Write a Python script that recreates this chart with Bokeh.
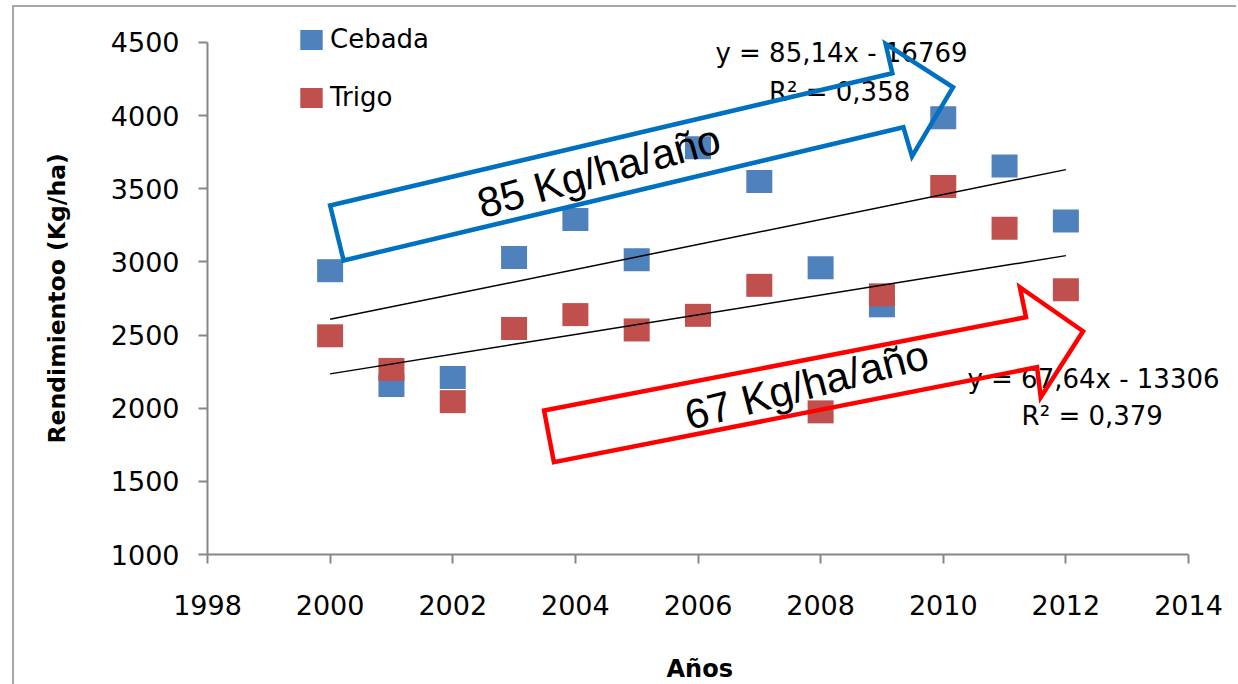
import numpy as np
from bokeh.plotting import figure
from bokeh.models import FixedTicker, Legend, LegendItem, Range1d, ColumnDataSource, Title
from bokeh.core.properties import value
from bokeh.embed import file_html
from bokeh.resources import INLINE

# ---------------- data ----------------
years = [2000, 2001, 2002, 2003, 2004, 2005, 2006, 2007, 2008, 2009, 2010, 2011, 2012]
cebada = [2940, 2155, 2210, 3030, 3290, 3015, 3780, 3550, 2960, 2700, 3985, 3655, 3280]
trigo = [2495, 2265, 2045, 2545, 2640, 2535, 2635, 2840, 1975, 2775, 3515, 3230, 2810]
series_names = ["Cebada", "Trigo"]
x_ticks = [1998, 2000, 2002, 2004, 2006, 2008, 2010, 2012, 2014]
y_ticks = [1000, 1500, 2000, 2500, 3000, 3500, 4000, 4500]
x_title = "Años"
y_title = "Rendimientoo (Kg/ha)"
eq_cebada = ["y = 85,14x - 16769", "R² = 0,358"]
eq_trigo = ["y = 67,64x - 13306", "R² = 0,379"]
arrow_text_cebada = "85 Kg/ha/año"
arrow_text_trigo = "67 Kg/ha/año"

# annotation geometry (data units: year, Kg/ha)
eq_cebada_x = [2008.34, 2008.31]
eq_cebada_y = [4425, 4165]
eq_trigo_x = [2012.45, 2012.43]
eq_trigo_y = [2202, 1950]
arrow_cebada_x = [2000.0, 2009.17, 2009.06, 2010.16, 2009.49, 2009.35, 2000.22]
arrow_cebada_y = [3386, 4290, 4491, 4194, 3721, 3921, 3010]
arrow_trigo_x = [2003.49, 2011.35, 2011.25, 2012.28, 2011.59, 2011.53, 2003.65]
arrow_trigo_y = [1984, 2622, 2827, 2526, 2075, 2280, 1631]
arrow_text_pos_cebada = (2004.38, 3620)
arrow_text_pos_trigo = (2007.77, 2160)

# ---------------- styles ----------------
BLUE = "#4F81BD"
RED = "#C0504D"
AXIS = "#868686"
FONT = "DejaVu Sans"

p = figure(frame_width=1023, frame_height=546,
           min_border_left=207, min_border_right=6,
           min_border_top=8, min_border_bottom=128,
           x_range=Range1d(1998, 2014.685), y_range=Range1d(1000, 4732.4),
           output_backend="svg", toolbar_location=None,
           background_fill_color="white", border_fill_alpha=0,
           outline_line_color=None)
p.styles = {"box-shadow": "inset 12px 5px 0 0 #ffffff, inset 14px 7px 0 0 #a6a6a6"}
p.xgrid.visible = False
p.ygrid.visible = False

for ax in (p.xaxis[0], p.yaxis[0]):
    ax.axis_line_color = AXIS
    ax.axis_line_width = 2
    ax.major_tick_line_color = AXIS
    ax.major_tick_line_width = 2
    ax.major_tick_out = 9
    ax.major_tick_in = 0
    ax.minor_tick_line_color = None
    ax.major_label_text_font = FONT
    ax.major_label_text_font_size = "27px"
    ax.major_label_text_color = "#000000"

p.xaxis[0].ticker = FixedTicker(ticks=x_ticks)
p.yaxis[0].ticker = FixedTicker(ticks=y_ticks)
p.xaxis[0].bounds = (x_ticks[0], x_ticks[-1])
p.yaxis[0].bounds = (y_ticks[0], y_ticks[-1])
p.xaxis[0].major_label_standoff = 31
p.yaxis[0].major_label_standoff = 19

# axis titles as side titles, placed along the drawn axis extent
p.add_layout(Title(text=x_title, align="left", offset=459, standoff=70,
                   text_font=FONT, text_font_style="bold", text_font_size="24px",
                   text_color="black"), "below")
p.add_layout(Title(text=y_title, align="left", offset=111, standoff=73,
                   text_font=FONT, text_font_style="bold", text_font_size="23.5px",
                   text_color="black"), "left")

src = ColumnDataSource(dict(year=years, cebada=cebada, trigo=trigo))
r_c = p.rect(x="year", y="cebada", width=26, height=23, width_units="screen",
             height_units="screen", fill_color=BLUE, line_color=None, source=src)
r_t = p.rect(x="year", y="trigo", width=26, height=23, width_units="screen",
             height_units="screen", fill_color=RED, line_color=None, source=src)

# linear trend lines
xs_fit = np.array([years[0], years[-1]], dtype=float)
for ser in (cebada, trigo):
    coef = np.polyfit(years, ser, 1)
    p.line(xs_fit, np.polyval(coef, xs_fit), line_color="black", line_width=1.5)

# trend equations
p.text(x=eq_cebada_x, y=eq_cebada_y, text=eq_cebada, text_font=value(FONT),
       text_font_size="26px", text_align="center", text_baseline="middle",
       text_color="black")
p.text(x=eq_trigo_x, y=eq_trigo_y, text=eq_trigo, text_font=value(FONT),
       text_font_size="26px", text_align="center", text_baseline="middle",
       text_color="black")

# arrows
p.patch(arrow_cebada_x, arrow_cebada_y, fill_alpha=0, line_color="#0070C0",
        line_width=4.5, line_join="miter")
p.patch(arrow_trigo_x, arrow_trigo_y, fill_alpha=0, line_color="#FF0000",
        line_width=4.5, line_join="miter")
p.text(x=[arrow_text_pos_cebada[0]], y=[arrow_text_pos_cebada[1]], text=[arrow_text_cebada],
       angle=np.deg2rad(15.5), text_font=value("Liberation Sans"), text_font_size="42px",
       text_align="center", text_baseline="middle", text_color="black")
p.text(x=[arrow_text_pos_trigo[0]], y=[arrow_text_pos_trigo[1]], text=[arrow_text_trigo],
       angle=np.deg2rad(14.5), text_font=value("Liberation Sans"), text_font_size="42px",
       text_align="center", text_baseline="middle", text_color="black")

legend = Legend(items=[LegendItem(label=series_names[0], renderers=[r_c]),
                       LegendItem(label=series_names[1], renderers=[r_t])],
                location=(90, 442), glyph_width=28, glyph_height=25,
                label_standoff=5, spacing=28, padding=0, margin=0,
                border_line_color=None, background_fill_alpha=0,
                label_text_font=FONT, label_text_font_size="26px",
                label_text_color="black")
p.add_layout(legend)

open("out.html", "w").write(file_html(p, INLINE))
